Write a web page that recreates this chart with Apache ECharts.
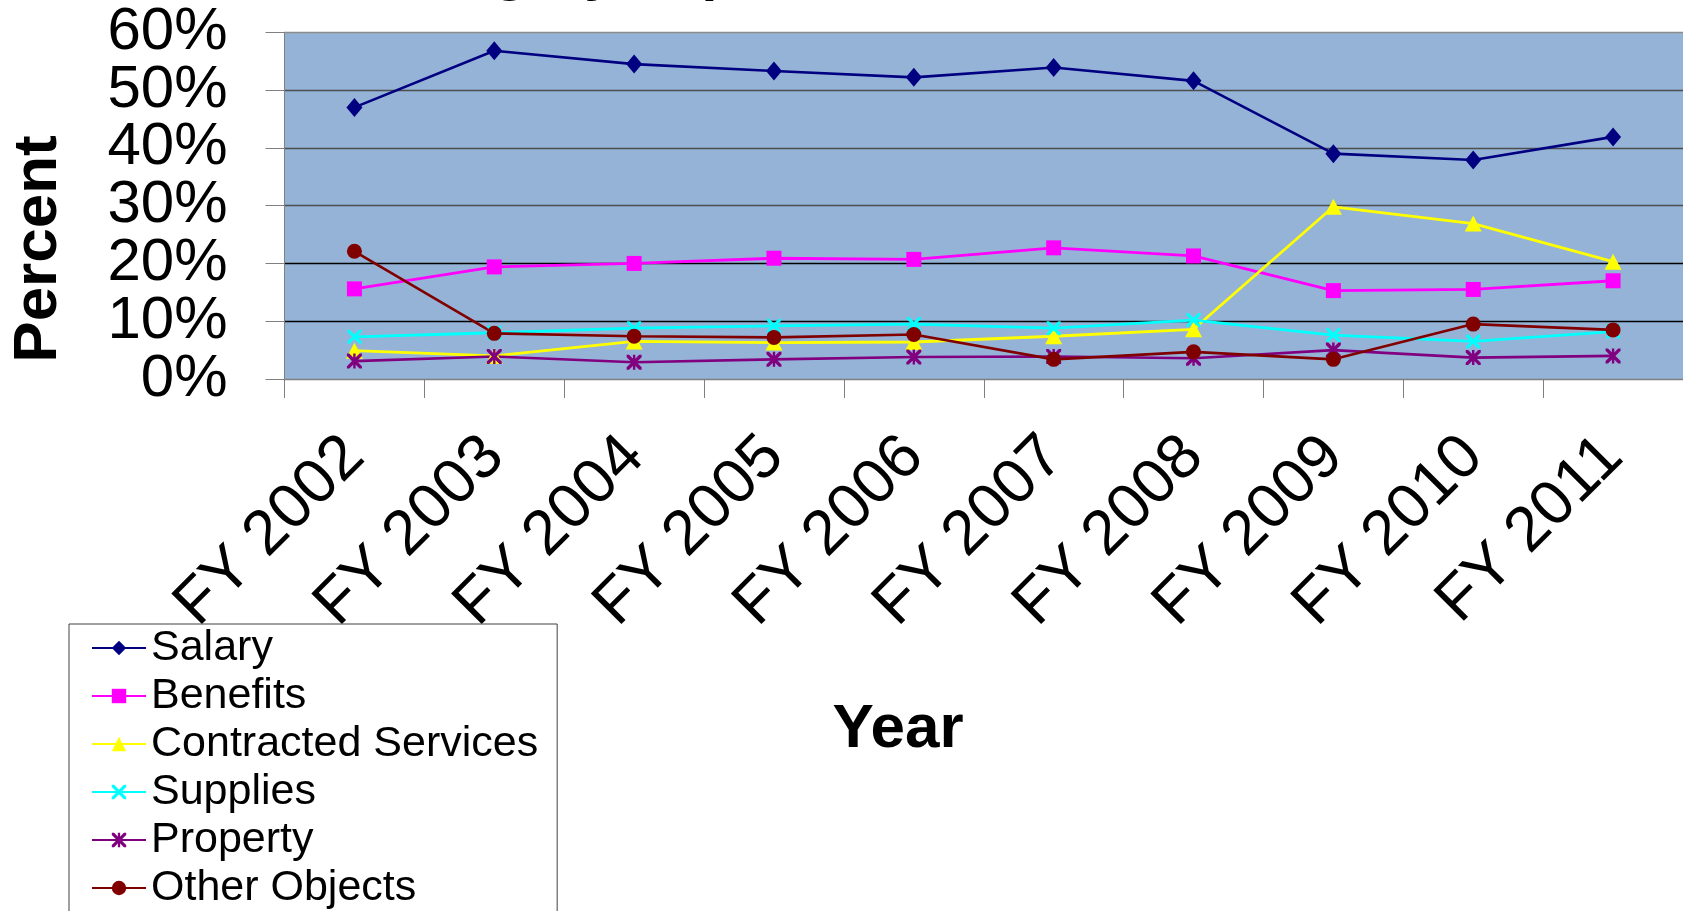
<!DOCTYPE html>
<html>
<head>
<meta charset="utf-8">
<title>Category Expenditures</title>
<script src="https://cdn.jsdelivr.net/npm/echarts@6/dist/echarts.min.js"></script>
<style>
  html, body { margin: 0; padding: 0; background: #ffffff; }
  #chart { width: 1683px; height: 911px; }
</style>
</head>
<body>
<div id="chart"></div>
<script>
// Share of spending by object category, fiscal years 2002-2011 (percent)
const categories = ['FY 2002', 'FY 2003', 'FY 2004', 'FY 2005', 'FY 2006',
                    'FY 2007', 'FY 2008', 'FY 2009', 'FY 2010', 'FY 2011'];
const salary       = [47.0, 56.8, 54.5, 53.3, 52.2, 53.9, 51.6, 39.0, 37.9, 41.9];
const benefits     = [15.6, 19.4, 20.0, 20.9, 20.7, 22.7, 21.3, 15.3, 15.5, 17.0];
const contracted   = [4.9, 4.0, 6.5, 6.3, 6.4, 7.4, 8.6, 29.8, 26.9, 20.3];
const supplies     = [7.3, 8.0, 8.8, 9.2, 9.5, 8.8, 10.2, 7.6, 6.5, 8.2];
const property     = [3.1, 3.9, 2.9, 3.4, 3.8, 3.9, 3.6, 5.0, 3.7, 4.0];
const otherObjects = [22.1, 7.9, 7.4, 7.2, 7.7, 3.4, 4.7, 3.4, 9.5, 8.5];
const yTicks = { min: 0, max: 60, step: 10 };

const FONT = '"Liberation Sans", Arial, Helvetica, sans-serif';

// Stroke-style markers built as thin filled bars
const X_MARK = 'path://M0,0 L1.6,0 L10,8.4 L10,10 L8.4,10 L0,1.6 Z M8.4,0 L10,0 L10,1.6 L1.6,10 L0,10 L0,8.4 Z';
const STAR_MARK = X_MARK + ' M4.2,0 L5.8,0 L5.8,10 L4.2,10 Z';

function lineSeries(name, data, color, symbol, size, width) {
  return {
    name: name,
    type: 'line',
    data: data,
    symbol: symbol,
    symbolSize: size,
    showAllSymbol: true,
    itemStyle: { color: color },
    lineStyle: { color: color, width: width },
    emphasis: { disabled: true }
  };
}

// The tall percent labels sit closer together than their own height, so the
// even and odd steps are labelled by two coincident value axes.
function percentLabel(even) {
  return function (v) {
    const isEven = Math.round(v / yTicks.step) % 2 === 0;
    return isEven === even ? v + '%' : '';
  };
}

function yAxisFor(even) {
  return {
    type: 'value',
    position: 'left',
    min: yTicks.min,
    max: yTicks.max,
    interval: yTicks.step,
    axisLine: { show: even, onZero: false, lineStyle: { color: '#808080', width: 1 } },
    axisTick: { show: even, length: 19, lineStyle: { color: '#808080', width: 1 } },
    axisLabel: {
      formatter: percentLabel(even),
      margin: 57,
      fontSize: 60,
      fontFamily: FONT,
      color: '#000000',
      showMinLabel: true,
      showMaxLabel: true
    },
    splitLine: {
      show: even,
      lineStyle: {
        color: ['#808080', '#000000', '#000000', '#4d4d4d', '#4d4d4d', '#4d4d4d', '#8c8c8c'],
        width: 1.3
      }
    }
  };
}

const chart = echarts.init(document.getElementById('chart'), null, { renderer: 'canvas' });

chart.setOption({
  animation: false,
  backgroundColor: '#ffffff',
  textStyle: { fontFamily: FONT },
  grid: {
    left: 284.5,
    top: 32.3,
    right: -9,
    bottom: 532,
    show: true,
    backgroundColor: '#95B3D7',
    borderWidth: 0
  },
  legend: {
    orient: 'vertical',
    left: 69,
    top: 624,
    height: 330,
    padding: [0, 19, 20, 22],
    itemGap: 0,
    itemWidth: 54,
    itemHeight: 18,
    backgroundColor: '#ffffff',
    borderColor: '#404040',
    borderWidth: 1,
    textStyle: { fontFamily: FONT, fontSize: 43, color: '#000000', lineHeight: 48 },
    data: ['Salary', 'Benefits', 'Contracted Services', 'Supplies', 'Property', 'Other Objects']
  },
  xAxis: {
    type: 'category',
    data: categories,
    boundaryGap: true,
    axisLine: { show: true, lineStyle: { color: '#808080', width: 1 } },
    axisTick: { show: true, length: 19, alignWithLabel: false, lineStyle: { color: '#808080', width: 1 } },
    axisLabel: {
      interval: 0,
      rotate: 45,
      margin: 68,
      fontSize: 63,
      fontFamily: FONT,
      color: '#000000',
      hideOverlap: false
    },
    splitLine: { show: false }
  },
  yAxis: [yAxisFor(true), yAxisFor(false)],
  graphic: [
    {
      type: 'text',
      x: 369,
      y: -27,
      silent: true,
      style: {
        text: 'Category Expenditures',
        font: 'bold 57px ' + FONT,
        fill: '#000000',
        align: 'left',
        verticalAlign: 'middle'
      }
    },
    {
      type: 'text',
      x: 39,
      y: 249,
      rotation: Math.PI / 2,
      silent: true,
      style: {
        text: 'Percent',
        font: 'bold 62px ' + FONT,
        fill: '#000000',
        align: 'center',
        verticalAlign: 'middle'
      }
    },
    {
      type: 'text',
      x: 898,
      y: 730,
      silent: true,
      style: {
        text: 'Year',
        font: 'bold 62px ' + FONT,
        fill: '#000000',
        align: 'center',
        verticalAlign: 'middle'
      }
    }
  ],
  series: [
    lineSeries('Salary', salary, '#000080', 'diamond', [16, 19], 2.6),
    lineSeries('Benefits', benefits, '#FF00FF', 'rect', [15, 15], 2.8),
    lineSeries('Contracted Services', contracted, '#FFFF00', 'triangle', [17, 16], 2.8),
    lineSeries('Supplies', supplies, '#00FFFF', X_MARK, [14, 14], 2.8),
    lineSeries('Property', property, '#800080', STAR_MARK, [15, 15], 2.6),
    lineSeries('Other Objects', otherObjects, '#800000', 'circle', [15, 15], 2.6)
  ]
});
</script>
</body>
</html>
